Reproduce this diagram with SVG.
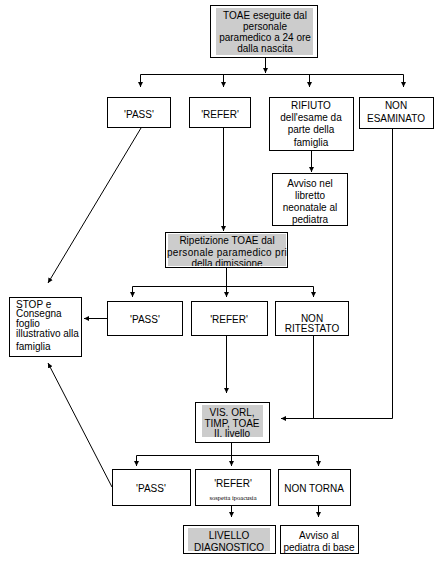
<svg xmlns="http://www.w3.org/2000/svg" width="437" height="561" viewBox="0 0 437 561">
<defs>
<marker id="ah" markerWidth="6" markerHeight="6" refX="5" refY="3" orient="auto" markerUnits="userSpaceOnUse">
<path d="M0,0.5 L5,3 L0,5.5 z" fill="#000"/>
</marker>
<clipPath id="ripClip"><rect x="166" y="234" width="121" height="32"/></clipPath>
<style>
.box{fill:#fff;stroke:#000;stroke-width:1}
.gray{fill:#cccccc;stroke:none}
.t{font-family:"Liberation Sans",Arial,sans-serif;font-size:10px;fill:#000;text-anchor:middle}
.tl{font-family:"Liberation Sans",Arial,sans-serif;font-size:10px;fill:#000;text-anchor:start}
.ts{font-family:"Liberation Serif","Times New Roman",serif;font-size:6.5px;fill:#000;text-anchor:middle}
.c{fill:none;stroke:#000;stroke-width:1}
.ca{fill:none;stroke:#000;stroke-width:1;marker-end:url(#ah)}
</style>
</defs>
<rect width="437" height="561" fill="#fff"/>

<g id="connectors">
<path class="ca" d="M265.5,57 V73"/>
<path class="c" d="M140.5,74.5 H403.5"/>
<path class="ca" d="M140.5,74.5 V87"/>
<path class="ca" d="M223.5,74.5 V87"/>
<path class="ca" d="M309.5,74.5 V87"/>
<path class="ca" d="M403.5,74.5 V87"/>
<path class="ca" d="M311.5,151 V172"/>
<path class="ca" d="M223.5,127 V231"/>
<path class="ca" d="M141,128 L48,283"/>
<path class="c" d="M226.5,267 V286.5"/>
<path class="c" d="M132.5,286.5 H313.5"/>
<path class="ca" d="M132.5,286.5 V297"/>
<path class="ca" d="M226.5,286.5 V297"/>
<path class="ca" d="M313.5,286.5 V297"/>
<path class="ca" d="M107,318.5 H84"/>
<path class="ca" d="M226.5,335 V393"/>
<path class="ca" d="M392.5,128 V418.5 H281"/>
<path class="c" d="M313.5,335 V418.5"/>
<path class="c" d="M231.5,442 V455.5"/>
<path class="c" d="M136.5,455.5 H318.5"/>
<path class="ca" d="M136.5,455.5 V466"/>
<path class="ca" d="M231.5,455.5 V466"/>
<path class="ca" d="M318.5,455.5 V466"/>
<path class="ca" d="M112,487 L48,363"/>
<path class="ca" d="M231.5,505 V517"/>
<path class="ca" d="M318.5,505 V517"/>
</g>

<g id="toae">
<rect class="box" x="210.5" y="5.5" width="107" height="52"/>
<rect class="gray" x="216" y="8" width="97" height="47"/>
<text class="t" x="265" y="18.5">TOAE eseguite dal</text>
<text class="t" x="265" y="29.5">personale</text>
<text class="t" x="265" y="40.5">paramedico a 24 ore</text>
<text class="t" x="265" y="51.5">dalla nascita</text>
</g>

<g id="pass1">
<rect class="box" x="107.5" y="97.5" width="63" height="30"/>
<text class="t" x="139" y="118">'PASS'</text>
</g>
<g id="refer1">
<rect class="box" x="189.5" y="97.5" width="61" height="30"/>
<text class="t" x="220" y="118">'REFER'</text>
</g>
<g id="rifiuto">
<rect class="box" x="269.5" y="97.5" width="84" height="53"/>
<text class="t" x="311" y="108.5">RIFIUTO</text>
<text class="t" x="311" y="120.5">dell'esame da</text>
<text class="t" x="311" y="133">parte della</text>
<text class="t" x="311" y="145.5">famiglia</text>
</g>
<g id="nonesaminato">
<rect class="box" x="359.5" y="97.5" width="74" height="31"/>
<text class="t" x="396" y="108.5">NON</text>
<text class="t" x="396" y="121.5">ESAMINATO</text>
</g>

<g id="avviso1">
<rect class="box" x="272.5" y="173.5" width="75" height="52"/>
<text class="t" x="310" y="186.5">Avviso nel</text>
<text class="t" x="310" y="198.5">libretto</text>
<text class="t" x="310" y="210.5">neonatale al</text>
<text class="t" x="310" y="222.5">pediatra</text>
</g>

<g id="ripetizione">
<rect class="box" x="165.5" y="232.5" width="122" height="35"/>
<rect class="gray" x="168" y="234" width="118" height="32"/>
<g clip-path="url(#ripClip)">
<text class="t" x="227" y="244">Ripetizione TOAE dal</text>
<text class="tl" x="167" y="255.5" letter-spacing="0.3">personale paramedico prima</text>
<text class="t" x="227" y="267">della dimissione</text>
</g>
</g>

<g id="stop">
<rect class="box" x="9.5" y="297.5" width="72" height="59"/>
<text class="tl" x="16" y="307.5">STOP  e</text>
<text class="tl" x="16" y="317">Consegna</text>
<text class="tl" x="16" y="327">foglio</text>
<text class="tl" x="16" y="337">illustrativo alla</text>
<text class="tl" x="16" y="349.5">famiglia</text>
</g>

<g id="pass2">
<rect class="box" x="107.5" y="301.5" width="75" height="34"/>
<text class="t" x="145" y="323">'PASS'</text>
</g>
<g id="refer2">
<rect class="box" x="191.5" y="301.5" width="76" height="34"/>
<text class="t" x="229" y="323">'REFER'</text>
</g>
<g id="nonritestato">
<rect class="box" x="275.5" y="301.5" width="73" height="34"/>
<text class="t" x="312" y="321.5">NON</text>
<text class="t" x="312" y="331.5">RITESTATO</text>
</g>

<g id="vis">
<rect class="box" x="195.5" y="402.5" width="74" height="40"/>
<rect class="gray" x="202" y="405" width="61" height="32"/>
<text class="t" x="232" y="415.5">VIS. ORL,</text>
<text class="t" x="232" y="426.5">TIMP, TOAE</text>
<text class="t" x="232" y="436.5">II. livello</text>
</g>

<g id="pass3">
<rect class="box" x="112.5" y="469.5" width="78" height="36"/>
<text class="t" x="151" y="491.5">'PASS'</text>
</g>
<g id="refer3">
<rect class="box" x="195.5" y="469.5" width="75" height="36"/>
<text class="t" x="233" y="486.5">'REFER'</text>
<text class="ts" x="233" y="500">sospetta ipoacusia</text>
</g>
<g id="nontorna">
<rect class="box" x="278.5" y="469.5" width="72" height="36"/>
<text class="t" x="314" y="491.5">NON TORNA</text>
</g>

<g id="livello">
<rect class="box" x="183.5" y="525.5" width="92" height="28"/>
<rect class="gray" x="188" y="528" width="82" height="23"/>
<text class="t" x="229" y="538.5">LIVELLO</text>
<text class="t" x="229" y="550.5">DIAGNOSTICO</text>
</g>
<g id="avviso2">
<rect class="box" x="280.5" y="525.5" width="78" height="28"/>
<text class="t" x="319" y="538.5">Avviso al</text>
<text class="t" x="319" y="551">pediatra di base</text>
</g>
</svg>
